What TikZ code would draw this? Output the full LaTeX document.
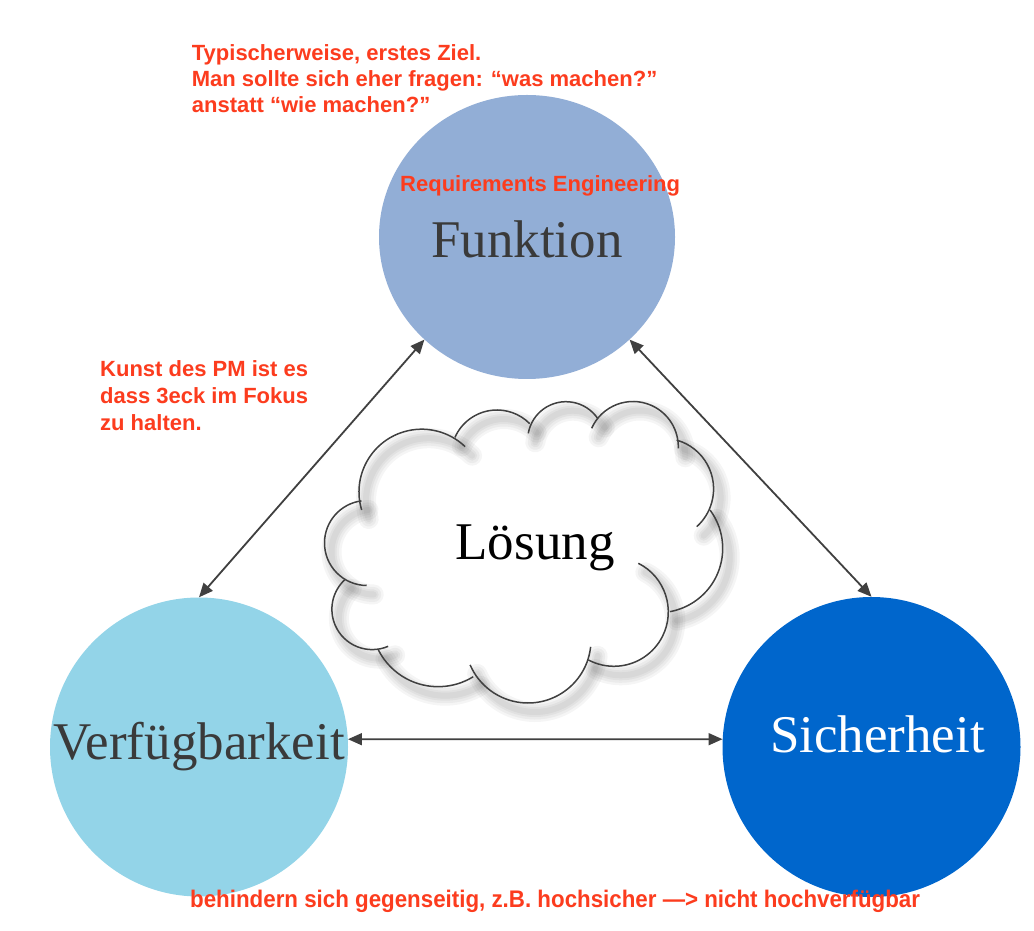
\documentclass[tikz,border=0pt]{standalone}
\usepackage{fontspec}
\setmainfont{Liberation Serif}
\newfontfamily\helv{Liberation Sans}
\usetikzlibrary{shapes.geometric,arrows.meta}
\definecolor{fkt}{RGB}{146,174,214}
\definecolor{vfg}{RGB}{147,212,232}
\definecolor{sich}{RGB}{0,102,204}
\definecolor{notered}{RGB}{252,60,30}
\definecolor{txtgray}{RGB}{58,58,58}
\definecolor{linegray}{RGB}{64,64,64}
\begin{document}
\begin{tikzpicture}[x=1pt,y=1pt,
  bubble/.style={ellipse, inner sep=0pt, font=\fontsize{53}{60}\selectfont},
  notetext/.style={font=\helv\bfseries\fontsize{22}{26}\selectfont, text=notered, inner sep=0pt, align=left},
  link/.style={draw=linegray, line width=1.8pt, {Triangle[length=14pt,width=12pt]}-{Triangle[length=14pt,width=12pt]}},
  cloudline/.style={draw=linegray, line width=1.5pt},
  cloudshadow/.style={draw=black, opacity=0.04, line cap=round}
]
\useasboundingbox (0,0) rectangle (1034,930);
\fill[white] (0,0) rectangle (1034,930);

% circles
\node[bubble, fill=fkt, minimum width=296pt, minimum height=284pt, text=txtgray, text height=42pt, text depth=0pt] (F) at (527,693) {\makebox[0pt]{Funktion}};
\node[bubble, fill=vfg, minimum width=298pt, minimum height=299pt, text=txtgray] (V) at (199,183) {\makebox[0pt]{Verfügbarkeit}};
\node[bubble, fill=sich, minimum width=298pt, minimum height=300pt, text=white, text height=36pt, text depth=26pt] (S) at (871.5,183) {\makebox[0pt]{\hspace{12pt}Sicherheit}};

% cloud shadow
\foreach \cx/\cy/\r/\a/\b in {
  421.7/438.1/62.7/196.8/46.2,
  497/474/46/156.2/44.7,
  566/490/38.3/170/33.9,
  633/483.2/45.3/155.9/-1.9,
  662.9/441.1/50.7/74.2/-48.2,
  658.4/381.6/64.3/36.7/-79.6,
  613.9/318.1/54.4/63.3/-118,
  528/290/63/-6.2/-156.7,
  438.1/310.2/66.9/-58.3/-153.2,
  372.2/320.7/40.3/-66.7/-227.1,
  367/387/42.5/269.6/97.5}
{
  \foreach \w in {20,15,10,6}{
    \draw[cloudshadow, line width=\w pt] ([shift={(\a:\r)}]\cx+7,\cy-9) arc[start angle=\a, end angle=\b, radius=\r];
  }
}
% cloud outline
\foreach \cx/\cy/\r/\a/\b in {
  421.7/438.1/62.7/196.8/46.2,
  497/474/46/156.2/44.7,
  566/490/38.3/170/33.9,
  633/483.2/45.3/155.9/-1.9,
  662.9/441.1/50.7/74.2/-48.2,
  658.4/381.6/64.3/36.7/-79.6,
  613.9/318.1/54.4/63.3/-118,
  528/290/63/-6.2/-156.7,
  438.1/310.2/66.9/-58.3/-153.2,
  372.2/320.7/40.3/-66.7/-227.1,
  367/387/42.5/269.6/97.5}
{
  \draw[cloudline] ([shift={(\a:\r)}]\cx,\cy) arc[start angle=\a, end angle=\b, radius=\r];
}
\node[anchor=base, inner sep=0pt, font=\fontsize{53}{60}\selectfont, text=black] (L) at (535,370) {Lösung};

% connectors
\draw[link] (F.225) -- (V.north);
\draw[link] (F.-45) -- (S.north);
\draw[link] (V.3) -- (S.177);

% notes
\node[notetext, anchor=north west] (n1) at (191.7,886) {Typischerweise, erstes Ziel.\\Man sollte sich eher fragen: “was machen?”\\anstatt “wie machen?”};
\node[notetext, anchor=base west] (n2) at (400,738.3) {Requirements Engineering};
\node[notetext, anchor=north west, font=\helv\bfseries\fontsize{22}{26.7}\selectfont] (n3) at (100,569.3) {Kunst des PM ist es\\dass 3eck im Fokus\\zu halten.};
\node[notetext, anchor=base west, font=\helv\bfseries\fontsize{24}{28}\selectfont] (n4) at (190,23) {\scalebox{0.93}[1]{behindern sich gegenseitig, z.B. hochsicher —> nicht hochverfügbar}};
\end{tikzpicture}
\end{document}
